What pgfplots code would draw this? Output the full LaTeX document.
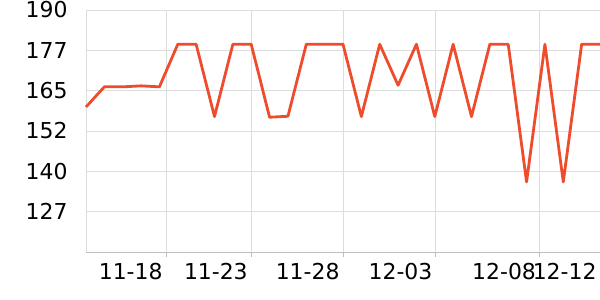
\documentclass[border=0pt]{standalone}
\usepackage{fontspec}
\setmainfont{DejaVu Sans}
\usepackage{pgfplots}
\pgfplotsset{compat=1.18}
\definecolor{lineC}{RGB}{238,76,44}
\definecolor{gridC}{RGB}{221,221,221}
\definecolor{axC}{RGB}{190,190,190}
\begin{document}
\begin{tikzpicture}
\begin{axis}[
  name=ax,
  scale only axis,
  width=514bp, height=242bp,
  xmin=0, xmax=28,
  ymin=114.4, ymax=190,
  ytick={127,139.6,152.2,164.8,177.4,190},
  yticklabels={127,140,152,165,177,190},
  xtick={4.36,9,14,19.06,24.7,28},
  xticklabels={11-18,11-23,11-28,12-03,12-08,12-12},
  x tick label style={anchor=north east, xshift=0bp, yshift=-3bp},
  y tick label style={xshift=-10bp},
  tick label style={font=\fontsize{22}{26}\selectfont},
  /pgf/number format/assume math mode=true,
  grid=major,
  major grid style={gridC, line width=0.8bp},
  axis x line*=bottom,
  axis y line*=left,
  x axis line style={axC, line width=0.8bp, -},
  y axis line style={gridC, line width=0.8bp, -},
  ytick style={draw=none},
  xtick style={axC, line width=0.8bp},
  xtick pos=bottom,
  tick align=outside,
  major tick length=5bp,
  clip=false,
]
\addplot[lineC, line width=2.8bp, line join=round, mark=none] coordinates {
(0,159.7) (1,166.0) (2,166.0) (3,166.3) (4,166.0)
(5,179.3) (6,179.3) (7,156.7) (8,179.3) (9,179.3)
(10,156.5) (11,156.8) (12,179.3) (13,179.3) (14,179.3)
(15,156.7) (16,179.3) (17,166.5) (18,179.3) (19,156.7)
(20,179.3) (21,156.7) (22,179.3) (23,179.3) (24,136.3)
(25,179.3) (26,136.3) (27,179.3) (28,179.3)
};
\end{axis}
\pgfresetboundingbox
\path ([xshift=-86bp,yshift=-48bp]ax.south west) rectangle ([yshift=10bp]ax.north east);
\end{tikzpicture}
\end{document}
